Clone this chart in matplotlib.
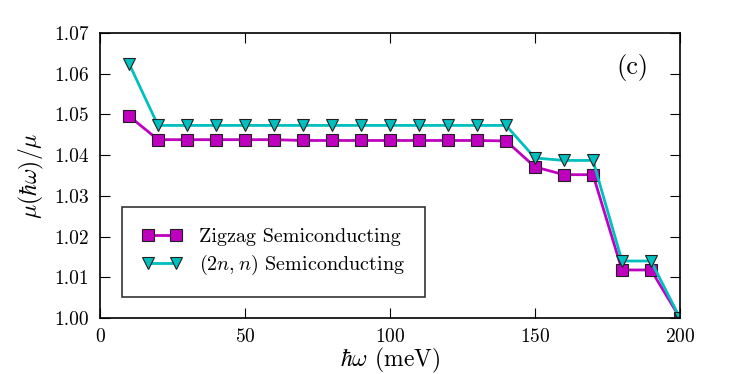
import matplotlib
matplotlib.use("Agg")
import matplotlib.pyplot as plt

plt.rcParams['font.family'] = 'serif'
plt.rcParams['font.serif'] = ['cmr10']
plt.rcParams['mathtext.fontset'] = 'cm'
plt.rcParams['axes.formatter.use_mathtext'] = True

energy = [10, 20, 30, 40, 50, 60, 70, 80, 90, 100, 110, 120, 130, 140, 150, 160, 170, 180, 190, 200]
zigzag = [1.0496, 1.0438, 1.0438, 1.0438, 1.0438, 1.0438, 1.0436, 1.0436, 1.0436, 1.0436, 1.0436, 1.0436,
          1.0436, 1.0435, 1.0371, 1.0352, 1.0352, 1.0118, 1.0118, 1.0000]
chiral = [1.0625, 1.0473, 1.0473, 1.0473, 1.0473, 1.0473, 1.0473, 1.0473, 1.0473, 1.0473, 1.0473, 1.0473,
          1.0473, 1.0473, 1.0393, 1.0387, 1.0387, 1.0140, 1.0140, 1.0000]
xticks = [0, 50, 100, 150, 200]
yticks = [1.00, 1.01, 1.02, 1.03, 1.04, 1.05, 1.06, 1.07]

fig = plt.figure(figsize=(7.47, 3.74), dpi=100)
ax = fig.add_axes([0.1339, 0.1497, 0.7764, 0.7621])

ax.plot(energy, zigzag, color='#bf00bf', lw=2, marker='s', ms=8, mfc='#bf00bf',
        mec='#202020', mew=0.8, label='Zigzag Semiconducting')
ax.plot(energy, chiral, color='#00bfbf', lw=2, marker='v', ms=8, mfc='#00bfbf',
        mec='#202020', mew=0.8, label=r'$(2n,n)$ Semiconducting')

ax.set_xlim(0, 200)
ax.set_ylim(1.00, 1.07)
ax.set_xticks(xticks)
ax.set_yticks(yticks)
ax.set_yticklabels([f'{v:.2f}' for v in yticks])
ax.tick_params(direction='in', top=True, right=True, length=7, width=0.8, labelsize=14)
ax.tick_params(axis='x', pad=7)
ax.tick_params(axis='y', pad=8)
for s in ax.spines.values():
    s.set_linewidth(1.2)

ax.set_xlabel(r'$\hbar\omega$ (meV)', fontsize=17, labelpad=0)
ax.set_ylabel(r'$\mu(\hbar\omega)/\mu$', fontsize=17, labelpad=6)
ax.text(0.945, 0.88, '(c)', transform=ax.transAxes, fontsize=19, ha='right', va='center')

leg = ax.legend(loc='lower left', bbox_to_anchor=(0.038, 0.074), borderaxespad=0,
                fontsize=14.5, fancybox=False, edgecolor='black', borderpad=1.0,
                handlelength=2.0, labelspacing=0.35, numpoints=2, handletextpad=0.8)
leg.get_frame().set_linewidth(1.2)

fig.savefig('out.png', dpi=100)
